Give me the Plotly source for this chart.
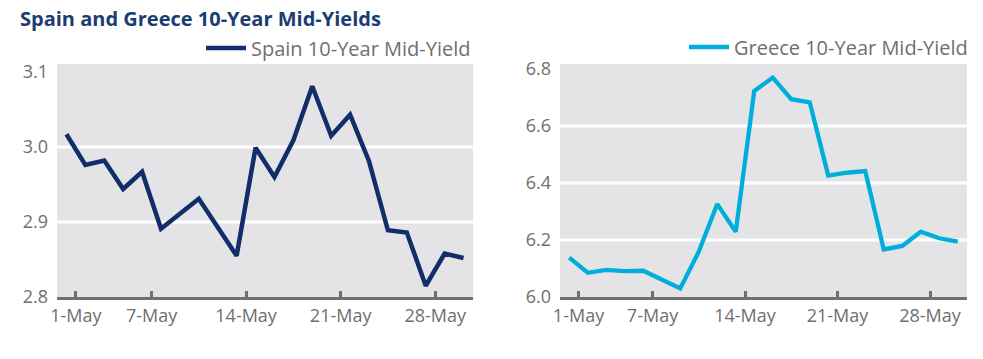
import plotly.graph_objects as go

# ---------------- data ----------------
dates = ["2012-04-30", "2012-05-01", "2012-05-02", "2012-05-03", "2012-05-04",
         "2012-05-07", "2012-05-08", "2012-05-09", "2012-05-10", "2012-05-11",
         "2012-05-14", "2012-05-15", "2012-05-16", "2012-05-17", "2012-05-18",
         "2012-05-21", "2012-05-22", "2012-05-23", "2012-05-24", "2012-05-25",
         "2012-05-28", "2012-05-29"]
spain = [3.017, 2.976, 2.982, 2.944, 2.967, 2.891, 2.911, 2.931, 2.893, 2.855,
         2.999, 2.960, 3.009, 3.081, 3.015, 3.043, 2.981, 2.889, 2.886, 2.815,
         2.858, 2.852]
greece = [6.138, 6.085, 6.095, 6.091, 6.092, 6.062, 6.030, 6.159, 6.326, 6.229,
          6.723, 6.770, 6.694, 6.683, 6.426, 6.436, 6.442, 6.167, 6.179, 6.229,
          6.206, 6.194]
tick_dates = ["2012-05-01", "2012-05-07", "2012-05-14", "2012-05-21", "2012-05-28"]
tick_text = ["1-May", "7-May", "14-May", "21-May", "28-May"]
spain_yticks = [2.8, 2.9, 3.0, 3.1]
greece_yticks = [6.0, 6.2, 6.4, 6.6, 6.8]
spain_name = "Spain 10-Year Mid-Yield"
greece_name = "Greece 10-Year Mid-Yield"
title_text = "Spain and Greece 10-Year Mid-Yields"

# ---------------- style ----------------
W, H = 983, 359
NAVY = "#112e6a"
CYAN = "#00aedb"
BG = "#e4e4e6"
GREY = "#6f6f6f"
TITLE_C = "#1b3d73"
FONT = "Open Sans"

x = list(range(len(dates)))
tickvals = [dates.index(d) - 0.5 for d in tick_dates]

def px_x(p):
    return p / W

def px_y(p):
    return (H - p) / H

ydom = [px_y(297), px_y(64)]

fig = go.Figure()
fig.add_trace(go.Scatter(x=x, y=spain, mode="lines", name=spain_name,
                         line=dict(color=NAVY, width=4.5),
                         xaxis="x", yaxis="y", legend="legend"))
fig.add_trace(go.Scatter(x=x, y=greece, mode="lines", name=greece_name,
                         line=dict(color=CYAN, width=4.3),
                         xaxis="x2", yaxis="y2", legend="legend2"))

xcommon = dict(range=[-0.5, len(dates) - 0.5], showgrid=False, zeroline=False,
               showline=True, linecolor=GREY, linewidth=3,
               ticks="inside", ticklen=6, tickwidth=3, tickcolor=GREY,
               tickvals=tickvals, ticktext=tick_text,
               tickfont=dict(family=FONT, size=18, color=GREY),
               automargin=False)
ycommon = dict(showgrid=False, zeroline=False, showline=False, ticks="",
               tickfont=dict(family=FONT, size=18, color=GREY),
               ticklabelstandoff=8, automargin=False)

fig.update_layout(
    width=W, height=H,
    margin=dict(l=0, r=0, t=0, b=0, pad=0),
    paper_bgcolor="white",
    plot_bgcolor=BG,
    xaxis=dict(xcommon, domain=[px_x(57), px_x(473)], anchor="y"),
    yaxis=dict(ycommon, domain=ydom, anchor="x",
               range=[2.8, 2.8 + (297 - 64) / 750],
               tickvals=spain_yticks, tickformat=".1f"),
    xaxis2=dict(xcommon, domain=[px_x(560), px_x(967)], anchor="y2"),
    yaxis2=dict(ycommon, domain=ydom, anchor="x2",
                range=[6.0, 6.0 + (297 - 64) / 285],
                tickvals=greece_yticks, tickformat=".1f"),
    legend=dict(x=px_x(476), y=px_y(48), xanchor="right", yanchor="middle",
                bgcolor="rgba(0,0,0,0)", font=dict(family=FONT, size=20, color=GREY),
                itemwidth=40),
    legend2=dict(x=px_x(973), y=px_y(47), xanchor="right", yanchor="middle",
                 bgcolor="rgba(0,0,0,0)", font=dict(family=FONT, size=20, color=GREY),
                 itemwidth=40),
    showlegend=True,
)

for v in spain_yticks[1:-1]:
    fig.add_shape(type="line", xref="x domain", yref="y", x0=0, x1=1, y0=v, y1=v,
                  line=dict(color="white", width=3), layer="below")
for v in greece_yticks[1:-1]:
    fig.add_shape(type="line", xref="x2 domain", yref="y2", x0=0, x1=1, y0=v, y1=v,
                  line=dict(color="white", width=3), layer="below")

fig.add_annotation(text="<b>" + title_text + "</b>", xref="paper", yref="paper",
                   x=px_x(18), y=px_y(18), xanchor="left", yanchor="middle",
                   showarrow=False, font=dict(family=FONT, size=20, color=TITLE_C))

fig.write_html("out.html",
               config={"displayModeBar": False},
               post_script="document.body.style.margin='0';")
